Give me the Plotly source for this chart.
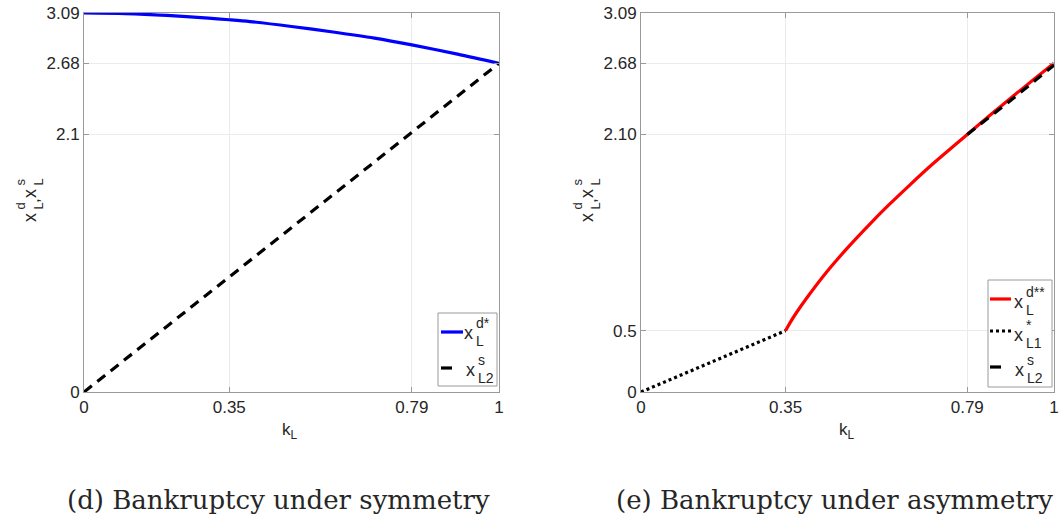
import plotly.graph_objects as go

W, H = 1060, 516

# ---------------- data ----------------
# (d) symmetry
k_sym_d = [0, 0.1, 0.2, 0.3, 0.35, 0.4, 0.5, 0.6, 0.7, 0.79, 0.9, 1.0]
xd_sym = [3.09, 3.085, 3.07, 3.048, 3.035, 3.02, 2.98, 2.935, 2.885, 2.83, 2.755, 2.68]
k_sym_s = [0, 1.0]
xs_sym = [0, 2.68]

# (e) asymmetry
k_asym_d = [0.35, 0.36, 0.375, 0.40, 0.45, 0.50, 0.55, 0.60, 0.65, 0.70, 0.75, 0.79, 0.85, 0.90, 0.95, 1.0]
xd_asym = [0.50, 0.56, 0.64, 0.76, 0.98, 1.175, 1.355, 1.525, 1.685, 1.84, 1.985, 2.10, 2.27, 2.41, 2.545, 2.68]
k_asym_1 = [0, 0.35]
x1_asym = [0, 0.5]
k_asym_2 = [0.79, 0.9, 1.0]
x2_asym = [2.10, 2.39, 2.665]

xtick_vals = [0, 0.35, 0.79, 1]
xtick_text = ["0", "0.35", "0.79", "1"]
ytick_vals_d = [0, 2.1, 2.68, 3.09]
ytick_text_d = ["0", "2.1", "2.68", "3.09"]
ytick_vals_e = [0, 0.5, 2.1, 2.68, 3.09]
ytick_text_e = ["0", "0.5", "2.10", "2.68", "3.09"]

titles = ["(d) Bankruptcy under symmetry", "(e) Bankruptcy under asymmetry"]

# ---------------- style ----------------
SANS = "Liberation Sans, Arial, Helvetica"
SERIF = "DejaVu Serif, serif"
TXT = "#262626"
FRAME = "#9a9a9a"
GRID = "#ebebeb"
LW = 3.2

def px(x):
    return x / W

def py(y):
    return 1 - y / H

fig = go.Figure()

fig.add_trace(go.Scatter(x=k_sym_d, y=xd_sym, mode="lines",
                         line=dict(color="#0000ff", width=LW, shape="spline", smoothing=0.8),
                         xaxis="x", yaxis="y", showlegend=False))
fig.add_trace(go.Scatter(x=k_sym_s, y=xs_sym, mode="lines", line=dict(color="black", width=LW, dash="10px,7px"),
                         xaxis="x", yaxis="y", showlegend=False))
fig.add_trace(go.Scatter(x=k_asym_1, y=x1_asym, mode="lines", line=dict(color="black", width=LW, dash="3px,3px"),
                         xaxis="x2", yaxis="y2", showlegend=False))
fig.add_trace(go.Scatter(x=k_asym_d, y=xd_asym, mode="lines",
                         line=dict(color="#ff0000", width=LW, shape="spline", smoothing=0.8),
                         xaxis="x2", yaxis="y2", showlegend=False))
fig.add_trace(go.Scatter(x=k_asym_2, y=x2_asym, mode="lines", line=dict(color="black", width=LW, dash="10px,7px"),
                         xaxis="x2", yaxis="y2", showlegend=False))

common_x = dict(range=[0, 1], tickvals=xtick_vals, ticktext=xtick_text, showgrid=True, gridcolor=GRID,
                gridwidth=1, zeroline=False, showline=True, linecolor=FRAME, linewidth=1, mirror="ticks",
                ticks="inside", ticklen=5, tickcolor=FRAME, automargin=False, ticklabeloverflow="allow",
                tickfont=dict(family=SANS, size=17, color=TXT))
common_y = dict(range=[0, 3.09], showgrid=True, gridcolor=GRID, gridwidth=1, zeroline=False, showline=True,
                linecolor=FRAME, linewidth=1, mirror="ticks", ticks="inside", ticklen=5, tickcolor=FRAME,
                automargin=False, ticklabeloverflow="allow", tickfont=dict(family=SANS, size=17, color=TXT))

fig.update_layout(
    width=W, height=H, margin=dict(l=0, r=0, t=0, b=0),
    paper_bgcolor="white", plot_bgcolor="white", showlegend=False,
    xaxis=dict(domain=[px(84), px(499)], anchor="y", **common_x),
    yaxis=dict(domain=[py(392), py(13)], anchor="x", tickvals=ytick_vals_d, ticktext=ytick_text_d, **common_y),
    xaxis2=dict(domain=[px(641), px(1054)], anchor="y2", **common_x),
    yaxis2=dict(domain=[py(392), py(13)], anchor="x2", tickvals=ytick_vals_e, ticktext=ytick_text_e, **common_y),
)

annots = []
shapes = []

def text(x, y, t, size=17, family=SANS, angle=0, xanchor="center"):
    annots.append(dict(x=px(x), y=py(y), xref="paper", yref="paper", text=t, showarrow=False,
                       font=dict(family=family, size=size, color=TXT), textangle=angle,
                       xanchor=xanchor, yanchor="middle"))

def scripted(x, y, base, sup, sub, sup_dx=6, sub_dx=6):
    # base glyph centred at (x, y); scripts left-aligned after it
    text(x, y, base, 18)
    text(x + sup_dx, y - 10, sup, 14, xanchor="left")
    text(x + sub_dx, y + 8, sub, 14, xanchor="left")

def rot_scripted(x, y, base, sup, sub):
    # rotated -90: reading bottom->top
    text(x, y, base, 18, angle=-90)
    annots.append(dict(x=px(x - 10), y=py(y - 6), xref="paper", yref="paper", text=sup, showarrow=False,
                       font=dict(family=SANS, size=13, color=TXT), textangle=-90, xanchor="center", yanchor="bottom"))
    annots.append(dict(x=px(x + 8), y=py(y - 6), xref="paper", yref="paper", text=sub, showarrow=False,
                       font=dict(family=SANS, size=13, color=TXT), textangle=-90, xanchor="center", yanchor="bottom"))

# axis labels
for off in (0, 557):
    text(290 + off, 431, "k<sub>L</sub>", 17)
    rot_scripted(30 + off, 218, "x", "d", "L")
    text(33 + off, 201, ",", 17, angle=-90)
    rot_scripted(30 + off, 194, "x", "s", "L")

# titles
text(278, 500, titles[0], 26, family=SERIF)
text(834, 500, titles[1], 26, family=SERIF)

# legends
def box(x0, y0, x1, y1):
    shapes.append(dict(type="rect", xref="paper", yref="paper", x0=px(x0), x1=px(x1), y0=py(y1), y1=py(y0),
                       line=dict(color=FRAME, width=1), fillcolor="white", layer="above"))

def sample(x0, x1, y, color, dash="solid"):
    shapes.append(dict(type="line", xref="paper", yref="paper", x0=px(x0), x1=px(x1), y0=py(y), y1=py(y),
                       line=dict(color=color, width=LW, dash=dash), layer="above"))

box(438, 313, 497, 386)
sample(441, 463, 332, "#0000ff")
scripted(468, 333, "x", "d*", "L")
sample(441, 452, 368, "black")
scripted(470, 370, "x", "s", "L2")

box(988, 280, 1052, 387)
sample(990, 1011, 299, "#ff0000")
scripted(1018, 302, "x", "d**", "L")
sample(990, 1011, 331, "black", dash="3px,3px")
scripted(1018, 335, "x", "*", "L1")
sample(990, 1001, 367, "black")
scripted(1019, 370, "x", "s", "L2")

fig.update_layout(annotations=annots, shapes=shapes)
fig.write_html("out.html")
